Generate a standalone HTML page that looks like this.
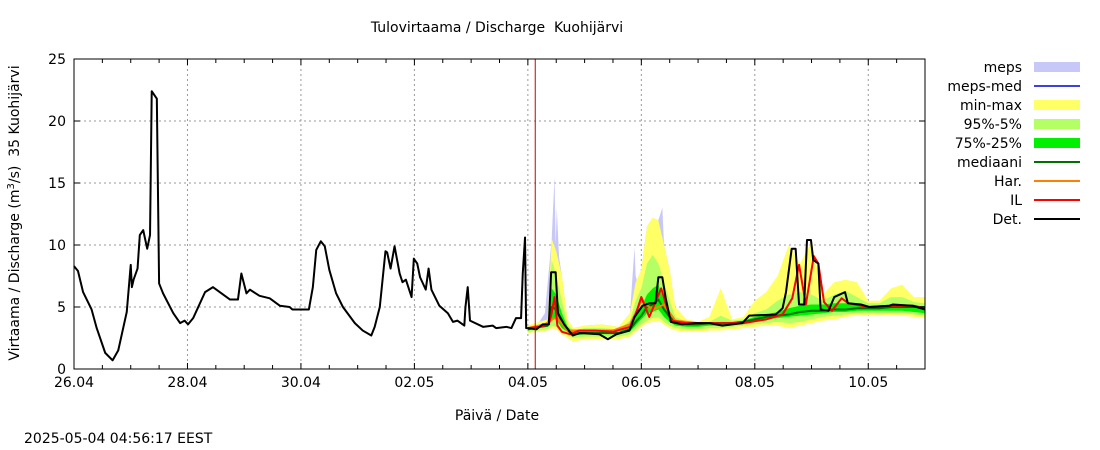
<!DOCTYPE html>
<html><head><meta charset="utf-8"><style>
body{margin:0;background:#fff}
svg{display:block;font-family:"DejaVu Sans","Liberation Sans",sans-serif}
</style></head><body>
<svg id="c" width="1100" height="450" viewBox="0 0 1100 450">
<text x="497" y="32" font-size="14" text-anchor="middle">Tulovirtaama / Discharge&#160; Kuohijärvi</text>
<text transform="translate(19,213) rotate(-90)" font-size="14" text-anchor="middle">Virtaama / Discharge (m<tspan dy="-5" font-size="10">3</tspan><tspan dy="5">/s)&#160; 35 Kuohijärvi</tspan></text>
<text x="497" y="420" font-size="14" text-anchor="middle">Päivä / Date</text>
<text x="24" y="443" font-size="14">2025-05-04 04:56:17 EEST</text>
<g id="grid"></g><g id="bands"></g><g id="lines"></g><g id="axes"></g><g id="legend"></g>
</svg>
<script>
const obsT=[0,0.07,0.16,0.31,0.40,0.55,0.68,0.78,0.93,1.0,1.02,1.05,1.12,1.16,1.22,1.29,1.34,1.37,1.46,1.47,1.50,1.57,1.75,1.87,1.95,2.01,2.10,2.31,2.45,2.75,2.89,2.95,3.04,3.1,3.27,3.45,3.63,3.8,3.85,4.10,4.14,4.21,4.27,4.35,4.42,4.50,4.62,4.74,4.95,5.09,5.24,5.30,5.39,5.49,5.52,5.58,5.65,5.74,5.79,5.85,5.95,5.99,6.05,6.1,6.20,6.25,6.3,6.44,6.59,6.68,6.76,6.88,6.9,6.94,6.98,7.21,7.38,7.44,7.62,7.71,7.79,7.88,7.91,7.95,7.97,8.0];
const obsV=[8.3,7.9,6.2,4.8,3.3,1.3,0.7,1.5,4.6,8.4,6.6,7.2,8.1,10.8,11.2,9.7,10.8,22.4,21.8,18,6.9,6.1,4.5,3.7,3.9,3.6,4.1,6.2,6.6,5.6,5.6,7.7,6.1,6.4,5.9,5.7,5.1,5.0,4.8,4.8,4.8,6.6,9.6,10.3,9.9,8.0,6.1,5.0,3.7,3.1,2.7,3.4,5.0,9.5,9.4,8.1,9.9,7.7,7.0,7.2,5.8,8.9,8.5,7.4,6.4,8.1,6.4,5.1,4.5,3.8,3.9,3.5,5.0,6.6,3.9,3.4,3.5,3.3,3.4,3.3,4.1,4.1,7.7,10.6,3.3,3.3];
const fT=[8.0,8.2,8.35,8.42,8.5,8.6,8.7,8.8,9.0,9.3,9.6,9.8,9.9,10.0,10.1,10.2,10.3,10.4,10.5,10.6,10.8,11.0,11.2,11.4,11.6,11.8,12.0,12.2,12.4,12.6,12.8,13.0,13.2,13.4,13.6,13.8,14.0,14.2,14.4,14.6,14.8,15.0];
const fMax=[3.5,3.8,4.0,10.5,9.5,7.5,4.0,3.3,3.5,3.6,3.4,4.5,7.0,8.0,11.5,12.2,12.0,10.0,8.0,5.0,4.0,3.8,4.2,6.5,4.0,4.2,5.5,6.2,7.5,10.0,8.5,10.3,6.0,7.0,7.2,7.0,5.5,5.5,6.5,6.8,5.8,5.8];
const fP95=[3.4,3.6,3.8,8.8,7.5,5.5,3.6,3.1,3.3,3.3,3.2,3.9,5.5,6.5,8.5,9.2,8.5,7.0,5.5,4.2,3.8,3.7,3.8,4.3,3.9,4.0,4.5,4.8,5.5,6.0,6.2,6.0,5.5,6.0,6.3,5.8,5.3,5.3,5.8,5.8,5.4,5.3];
const fP75=[3.3,3.5,3.7,6.5,6.0,4.5,3.4,3.0,3.1,3.1,3.0,3.5,4.5,5.0,6.0,6.5,6.8,5.5,4.6,3.9,3.7,3.6,3.7,3.8,3.8,3.9,4.2,4.4,4.6,4.9,5.1,5.2,5.2,5.3,5.3,5.2,5.1,5.0,5.1,5.1,5.0,5.0];
const fP25=[3.1,3.3,3.4,4.0,4.0,3.3,3.0,2.7,2.8,2.8,2.8,3.0,3.5,4.0,4.5,4.6,4.8,4.2,3.8,3.5,3.4,3.4,3.5,3.5,3.6,3.7,3.8,4.0,4.1,4.2,4.3,4.4,4.5,4.6,4.6,4.7,4.7,4.7,4.7,4.7,4.6,4.5];
const fP5=[3.0,3.1,3.2,3.5,3.4,3.0,2.7,2.5,2.6,2.6,2.6,2.8,3.2,3.6,3.9,4.1,4.2,3.8,3.5,3.3,3.2,3.2,3.3,3.3,3.4,3.5,3.6,3.7,3.8,3.7,3.8,4.0,4.2,4.3,4.4,4.5,4.5,4.5,4.5,4.5,4.4,4.3];
const fMin=[2.9,3.0,3.1,3.3,3.2,2.8,2.5,2.2,2.4,2.4,2.4,2.6,3.0,3.4,3.7,3.8,3.9,3.6,3.3,3.1,3.0,3.0,3.1,3.1,3.2,3.3,3.4,3.5,3.5,3.3,3.5,3.7,3.9,4.0,4.2,4.3,4.3,4.3,4.3,4.3,4.2,4.1];
const fMed=[3.2,3.4,3.5,5.0,4.8,3.8,3.1,2.8,2.9,2.9,2.9,3.2,3.8,4.3,5.0,5.2,5.6,4.8,4.2,3.8,3.6,3.6,3.7,3.7,3.7,3.8,4.0,4.2,4.3,4.4,4.6,4.7,4.7,4.8,4.8,4.9,4.9,4.9,5.0,5.0,5.0,5.0];
const mepsT=[8.0,8.2,8.3,8.42,8.47,8.49,8.51,8.55,8.6,8.7,8.8,9.0,9.3,9.6,9.8,9.88,9.9,9.93,10.0,10.1,10.2,10.3,10.37,10.4,10.5,10.6];
const mepsV=[3.5,3.8,4.5,10.5,15.5,10.0,13.0,9.0,7.5,4.0,3.3,3.5,3.6,3.4,4.5,9.8,7.5,7.0,8.0,11.5,12.2,12.0,13.0,10.0,8.0,5.0];
const detT=[8.0,8.15,8.26,8.37,8.41,8.49,8.53,8.64,8.79,8.91,9.26,9.41,9.56,9.79,9.88,10.02,10.14,10.25,10.30,10.37,10.43,10.52,10.72,10.96,11.2,11.43,11.78,11.90,12.37,12.49,12.55,12.65,12.72,12.78,12.87,12.92,12.99,13.03,13.12,13.16,13.30,13.40,13.59,13.64,13.87,14.02,14.37,14.43,14.78,15.0];
const detV=[3.3,3.2,3.6,3.6,7.8,7.8,4.5,3.6,2.7,2.9,2.8,2.4,2.8,3.1,4.2,5.1,5.3,5.3,7.4,7.4,5.7,3.8,3.6,3.7,3.7,3.5,3.7,4.3,4.4,4.9,6.2,9.7,9.7,5.2,5.2,10.4,10.4,8.8,8.5,4.8,4.7,5.8,6.2,5.3,5.2,5.0,5.1,5.2,5.1,4.8];
const ilT=[8.0,8.2,8.37,8.42,8.47,8.52,8.6,8.75,8.9,9.2,9.5,9.8,9.9,10.0,10.14,10.35,10.52,10.8,11.2,11.8,12.2,12.49,12.66,12.78,12.9,13.04,13.12,13.22,13.36,13.53,13.65,14.0,14.4,14.8,15.0];
const ilV=[3.3,3.4,3.6,4.5,5.8,3.5,3.0,2.8,3.1,3.1,3.0,3.4,4.4,5.8,4.2,6.5,3.9,3.7,3.7,3.7,4.0,4.4,5.7,8.4,5.2,9.1,8.5,5.4,4.7,5.7,5.3,5.0,5.1,5.1,4.9];
const harT=[8.0,8.3,8.5,8.7,9.0,9.5,9.8,10.0,10.2,10.4,10.6,11.0];
const harV=[3.3,3.6,4.2,3.1,3.1,3.1,3.6,5.5,4.8,5.2,3.9,3.7];
const xTickLabels=["26.04","28.04","30.04","02.05","04.05","06.05","08.05","10.05"];
const yTicks=[0,5,10,15,20,25];

const X0=74,X1=925,Y0=369,Y1=59,DAYS=15,YMAX=25;
const sx=d=>X0+d*(X1-X0)/DAYS, sy=v=>Y0-v*(Y0-Y1)/YMAX;
const NS="http://www.w3.org/2000/svg";
function mk(p,tag,at){const e=document.createElementNS(NS,tag);for(const k in at)e.setAttribute(k,at[k]);p.appendChild(e);return e;}
const G=id=>document.getElementById(id);
const grid=G('grid'),bands=G('bands'),lines=G('lines'),axes=G('axes'),leg=G('legend');

yTicks.forEach(v=>{if(v>0&&v<25){const l=mk(grid,'line',{x1:X0,x2:X1,y1:sy(v),y2:sy(v),stroke:'#999','stroke-dasharray':'2,3'});

}
const t=mk(axes,'text',{x:X0-8,y:sy(v)+5,'font-size':14,'text-anchor':'end'});t.textContent=v;


mk(axes,'line',{x1:X0,x2:X0+6,y1:sy(v),y2:sy(v),stroke:'#000'});mk(axes,'line',{x1:X1-6,x2:X1,y1:sy(v),y2:sy(v),stroke:'#000'});});
xTickLabels.forEach((s,i)=>{const x=sx(i*2);
if(i>0){const l=mk(grid,'line',{x1:x,x2:x,y1:Y1,y2:Y0,stroke:'#999','stroke-dasharray':'2,3'});

}
const t=mk(axes,'text',{x:x,y:Y0+18,'font-size':14,'text-anchor':'middle'});t.textContent=s;

});
for(let h=0;h<=DAYS*2;h++){const x=sx(h/2),L=h%4==0?6:4;mk(axes,'line',{x1:x,x2:x,y1:Y0,y2:Y0-L,stroke:'#000'});mk(axes,'line',{x1:x,x2:x,y1:Y1,y2:Y1+L,stroke:'#000'});}

function interp(T,V,t){if(t<=T[0])return V[0];for(let i=1;i<T.length;i++){if(t<=T[i]){const f=(t-T[i-1])/(T[i]-T[i-1]);return V[i-1]+f*(V[i]-V[i-1]);}}return V[V.length-1];}
function band(T,lo,hi,fill,name){let p=T.map((t,i)=>sx(t)+','+sy(hi[i]));
for(let i=T.length-1;i>=0;i--)p.push(sx(T[i])+','+sy(lo[i]));
const e=mk(bands,'polygon',{points:p.join(' '),fill:fill});

}
const mepsLo=mepsT.map(t=>interp(fT,fMin,t));
band(mepsT,mepsLo,mepsV,'#c8c8f8','meps-band');
band(fT,fMin,fMax,'#ffff66','min-max-band');
band(fT,fP5,fP95,'#b4ff64','p95-p5-band');
band(fT,fP25,fP75,'#00f000','p75-p25-band');
function line(T,V,c,w,name){const e=mk(lines,'polyline',{points:T.map((t,i)=>sx(t)+','+sy(V[i])).join(' '),fill:'none',stroke:c,'stroke-width':w,'stroke-linejoin':'round'});

}
line(fT,fMed,'#007000',2,'median-line');
line(harT,harV,'#ff8000',2,'har-line');
line(ilT,ilV,'#ff0000',2,'il-line');
line(obsT,obsV,'#000',2,'observed-line');
line(detT,detV,'#000',2,'det-line');
const now=mk(lines,'line',{x1:sx(8.13),x2:sx(8.13),y1:Y1,y2:Y0,stroke:'#c00','stroke-width':1});


const fr=mk(axes,'rect',{x:X0,y:Y1,width:X1-X0,height:Y0-Y1,fill:'none',stroke:'#000'});



const legItems=[["meps","#c8c8f8",1],["meps-med","#4040e0",0],["min-max","#ffff66",1],["95%-5%","#b4ff64",1],["75%-25%","#00f000",1],["mediaani","#007000",0],["Har.","#ff8000",0],["IL","#ff0000",0],["Det.","#000",0]];
legItems.forEach((it,i)=>{const y=67+i*19;
const t=mk(leg,'text',{x:1022,y:y+5,'font-size':14,'text-anchor':'end'});t.textContent=it[0];


if(it[2])mk(leg,'rect',{x:1034,y:y-5,width:46,height:10,fill:it[1]});
else mk(leg,'line',{x1:1034,x2:1080,y1:y,y2:y,stroke:it[1],'stroke-width':2});});
</script>
</body></html>
